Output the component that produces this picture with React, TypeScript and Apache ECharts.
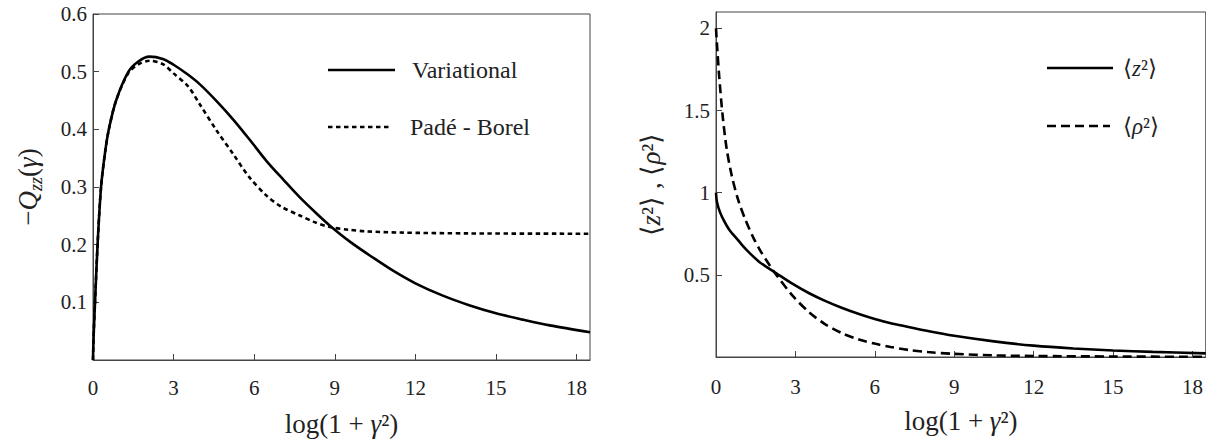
import React, { useEffect, useRef } from "react";
import * as echarts from "echarts";

// ---- Left panel: -Q_zz(gamma) vs log(1+gamma^2)
const variationalX = [0, 0.01, 0.03, 0.075, 0.17, 0.3, 0.45, 0.59, 0.86, 1.32, 1.7, 2.1, 2.6, 3.0, 3.53, 3.98, 4.6, 5.22, 5.85, 6.46, 7.1, 7.7, 8.3, 8.82, 9.6, 10.44, 11.2, 12, 13, 14, 15, 16, 17, 18.5];
const variationalY = [0, 0.02, 0.05, 0.1, 0.2, 0.3, 0.36, 0.4, 0.45, 0.5, 0.518, 0.526, 0.522, 0.512, 0.495, 0.478, 0.449, 0.417, 0.381, 0.345, 0.312, 0.282, 0.255, 0.233, 0.204, 0.177, 0.154, 0.133, 0.112, 0.095, 0.081, 0.07, 0.06, 0.048];

const padeX = [0, 0.01, 0.03, 0.075, 0.17, 0.3, 0.45, 0.59, 0.86, 1.32, 1.7, 2.1, 2.6, 3.0, 3.53, 3.98, 4.6, 5.22, 5.8, 6.46, 7.0, 7.7, 8.2, 8.82, 9.5, 10.19, 11.43, 14, 18.5];
const padeY = [0, 0.02, 0.05, 0.1, 0.2, 0.3, 0.36, 0.4, 0.45, 0.498, 0.513, 0.519, 0.513, 0.497, 0.475, 0.443, 0.398, 0.357, 0.318, 0.285, 0.266, 0.2505, 0.24, 0.2305, 0.226, 0.223, 0.221, 0.2195, 0.219];

// ---- Right panel: <z^2>, <rho^2> vs log(1+gamma^2)
const z2X = [0, 0.04, 0.15, 0.3, 0.5, 0.84, 1.02, 1.3, 1.65, 2.28, 2.9, 3.52, 4.1, 4.77, 5.4, 6.03, 6.6, 7.27, 8, 9, 10.5, 12, 13.5, 15, 16.5, 18.5];
const z2Y = [1, 0.94, 0.882, 0.83, 0.775, 0.71, 0.675, 0.628, 0.577, 0.51, 0.445, 0.388, 0.343, 0.298, 0.262, 0.23, 0.206, 0.183, 0.158, 0.129, 0.095, 0.069, 0.052, 0.04, 0.031, 0.022];

const rho2X = [0, 0.05, 0.12, 0.25, 0.4, 0.6, 0.85, 1.1, 1.4, 1.7, 2.02, 2.28, 2.9, 3.52, 4.1, 4.77, 5.4, 6.03, 6.6, 7.27, 8, 9, 10.5, 12, 15, 18.5];
const rho2Y = [2, 1.87, 1.71, 1.47, 1.27, 1.1, 0.95, 0.84, 0.73, 0.64, 0.56, 0.5, 0.372, 0.272, 0.202, 0.144, 0.107, 0.08, 0.061, 0.043, 0.03, 0.019, 0.01, 0.006, 0.003, 0.001];

const legendLeft = ["Variational", "Padé - Borel"];

const zip = (xs: number[], ys: number[]) => xs.map((x, i) => [x, ys[i]]);

const FONT = "Liberation Serif";
const AXIS_COLOR = "#444";
const TEXT_COLOR = "#222";

export default function App() {
  const ref = useRef<HTMLDivElement>(null);
  useEffect(() => {
    document.body.style.margin = "0";
    const chart = echarts.init(ref.current!, null, { renderer: "svg" });

    const xAxisBase = (gridIndex: number) => ({
      type: "value",
      gridIndex,
      min: 0,
      max: 18.5,
      interval: 3,
      splitLine: { show: false },
      axisLine: { show: true, lineStyle: { color: AXIS_COLOR, width: 1 } },
      axisTick: { show: true, inside: true, length: 6, lineStyle: { color: AXIS_COLOR } },
      axisLabel: { showMaxLabel: false, fontFamily: FONT, fontSize: 21, color: TEXT_COLOR, margin: gridIndex === 0 ? 17 : 19 },
      name: "log(1 + {i|γ}²)",
      nameLocation: "middle",
      nameGap: 50,
      nameTextStyle: {
        fontFamily: FONT,
        fontSize: 27,
        color: TEXT_COLOR,
        rich: { i: { fontFamily: FONT, fontSize: 27, fontStyle: "italic", color: TEXT_COLOR } },
      },
    });

    const titleRich = {
      n: { fontFamily: FONT, fontSize: 27, color: TEXT_COLOR },
      i: { fontFamily: FONT, fontSize: 27, fontStyle: "italic", color: TEXT_COLOR },
      s: { fontFamily: FONT, fontSize: 18, fontStyle: "italic", color: TEXT_COLOR, padding: [16, 0, 0, 0] },
    };

    const seriesCommon = { type: "line", showSymbol: false, smooth: 0.3 };

    const option: any = {
      animation: false,
      backgroundColor: "#fff",
      grid: [
        { left: 93, top: 14, width: 497, height: 348, show: true, borderColor: AXIS_COLOR, borderWidth: 1, backgroundColor: "transparent" },
        { left: 716, top: 12, width: 493, height: 345, show: true, borderColor: AXIS_COLOR, borderWidth: 1, backgroundColor: "transparent" },
      ],
      xAxis: [xAxisBase(0), xAxisBase(1)],
      yAxis: [
        {
          type: "value",
          gridIndex: 0,
          min: 0,
          max: 0.6,
          interval: 0.1,
          splitLine: { show: false },
          axisLine: { show: true, lineStyle: { color: AXIS_COLOR, width: 1 } },
          axisTick: { show: true, inside: true, length: 6, lineStyle: { color: AXIS_COLOR } },
          axisLabel: {
            fontFamily: FONT,
            fontSize: 21,
            color: TEXT_COLOR,
            margin: 6,
            formatter: (v: number) => (Math.abs(v) < 1e-9 ? "" : v.toFixed(1)),
          },
          name: "{n|−}{i|Q}{s|zz}{n|(}{i|γ}{n|)}",
          nameLocation: "middle",
          nameRotate: 90,
          nameGap: 48,
          nameTextStyle: { fontFamily: FONT, fontSize: 27, color: TEXT_COLOR, rich: titleRich },
        },
        {
          type: "value",
          gridIndex: 1,
          min: 0,
          max: 2.1,
          interval: 0.5,
          splitLine: { show: false },
          axisLine: { show: true, lineStyle: { color: AXIS_COLOR, width: 1 } },
          axisTick: { show: true, inside: true, length: 6, lineStyle: { color: AXIS_COLOR } },
          axisLabel: {
            showMaxLabel: false,
            fontFamily: FONT,
            fontSize: 21,
            color: TEXT_COLOR,
            margin: 6,
            formatter: (v: number) => (Math.abs(v) < 1e-9 ? "" : String(v)),
          },
          name: "{n|⟨}{i|z}{n|²⟩ , ⟨}{i|ρ}{n|²⟩}",
          nameLocation: "middle",
          nameRotate: 90,
          nameGap: 52,
          nameTextStyle: { fontFamily: FONT, fontSize: 27, color: TEXT_COLOR, rich: titleRich },
        },
      ],
      series: [
        { ...seriesCommon, name: legendLeft[0], xAxisIndex: 0, yAxisIndex: 0, data: zip(variationalX, variationalY), lineStyle: { color: "#000", width: 2.6 } },
        { ...seriesCommon, name: legendLeft[1], xAxisIndex: 0, yAxisIndex: 0, data: zip(padeX, padeY), lineStyle: { color: "#000", width: 2.6, type: [4.5, 3.5] } },
        { ...seriesCommon, name: "z2", xAxisIndex: 1, yAxisIndex: 1, data: zip(z2X, z2Y), lineStyle: { color: "#000", width: 2.6 } },
        { ...seriesCommon, name: "rho2", xAxisIndex: 1, yAxisIndex: 1, data: zip(rho2X, rho2Y), lineStyle: { color: "#000", width: 2.6, type: [9, 5] } },
      ],
      graphic: [
        { type: "line", shape: { x1: 328, y1: 70, x2: 395, y2: 70 }, style: { stroke: "#000", lineWidth: 2.6 } },
        { type: "text", x: 412, y: 70, style: { text: legendLeft[0], fontFamily: FONT, fontSize: 24, fill: TEXT_COLOR, verticalAlign: "middle" } },
        { type: "line", shape: { x1: 328, y1: 127, x2: 392, y2: 127 }, style: { stroke: "#000", lineWidth: 2.6, lineDash: [4.5, 3.5] } },
        { type: "text", x: 410, y: 127, style: { text: legendLeft[1], fontFamily: FONT, fontSize: 24, fill: TEXT_COLOR, verticalAlign: "middle" } },
        { type: "line", shape: { x1: 1047, y1: 68, x2: 1113, y2: 68 }, style: { stroke: "#000", lineWidth: 2.6 } },
        {
          type: "text",
          x: 1123,
          y: 68,
          style: {
            text: "{n|⟨}{i|z}{n|²⟩}",
            verticalAlign: "middle",
            rich: {
              n: { fontFamily: FONT, fontSize: 23, fill: TEXT_COLOR },
              i: { fontFamily: FONT, fontSize: 23, fontStyle: "italic", fill: TEXT_COLOR },
            },
          },
        },
        { type: "line", shape: { x1: 1047, y1: 126, x2: 1110, y2: 126 }, style: { stroke: "#000", lineWidth: 2.6, lineDash: [9, 5] } },
        {
          type: "text",
          x: 1123,
          y: 126,
          style: {
            text: "{n|⟨}{i|ρ}{n|²⟩}",
            verticalAlign: "middle",
            rich: {
              n: { fontFamily: FONT, fontSize: 23, fill: TEXT_COLOR },
              i: { fontFamily: FONT, fontSize: 23, fontStyle: "italic", fill: TEXT_COLOR },
            },
          },
        },
      ],
    };

    chart.setOption(option);
    return () => chart.dispose();
  }, []);
  return <div ref={ref} style={{ width: 1206, height: 442 }} />;
}
